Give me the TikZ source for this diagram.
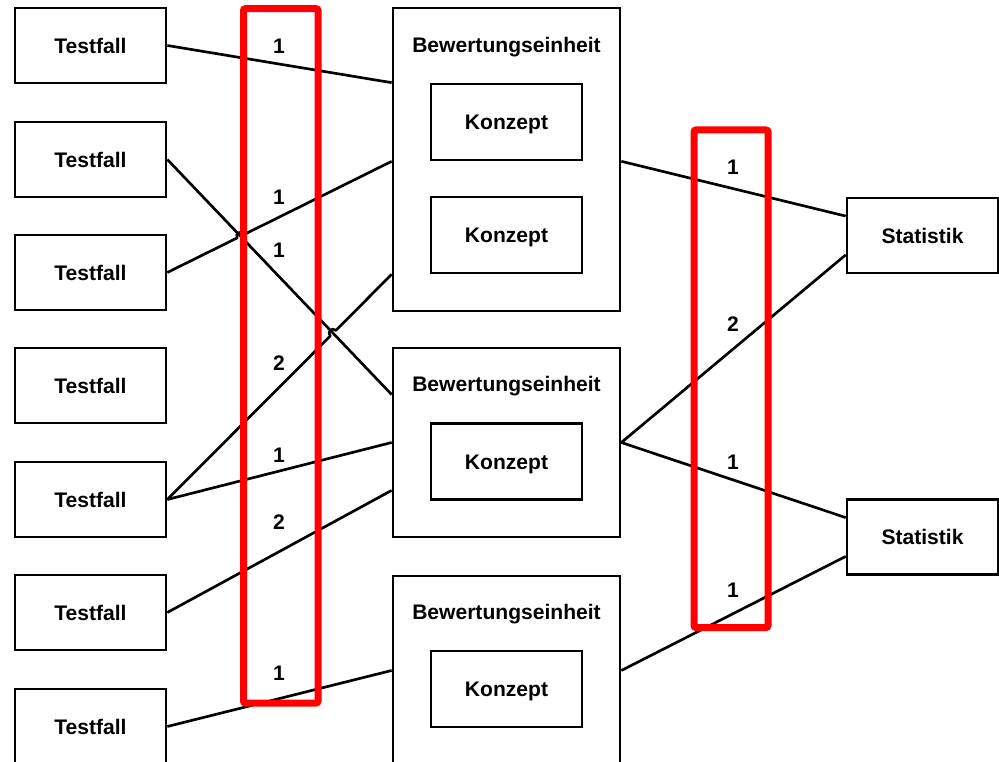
\documentclass[tikz,border=0pt]{standalone}
\usepackage{fontspec}
\setmainfont{Liberation Sans}
\usetikzlibrary{calc}
\begin{document}
\begin{tikzpicture}[x=0.75pt,y=-0.75pt,
  txt/.style={font=\bfseries\fontsize{15.8}{18}\selectfont,
    text height=11.3pt, text depth=0pt},
  box/.style={txt, draw, line width=2pt, fill=white, minimum width=113.25pt,
    minimum height=56.25pt, inner sep=0pt},
  unit/.style={draw, line width=2pt, minimum width=170.25pt,
    minimum height=141.75pt, inner sep=0pt},
  title/.style={txt, inner sep=0pt},
  count/.style={txt, inner sep=0pt},
  wire/.style={line width=2pt, line join=round},
  group/.style={draw=red, line width=5.25pt, rounded corners=1.5pt}]
\useasboundingbox (0,0) rectangle (999,762);

% test cases
\node[box] (tf1) at (90.5,45.5)  {Testfall};
\node[box] (tf2) at (90.5,159.5) {Testfall};
\node[box] (tf3) at (90.5,272.5) {Testfall};
\node[box] (tf4) at (90.5,385.5) {Testfall};
\node[box] (tf5) at (90.5,499.5) {Testfall};
\node[box] (tf6) at (90.5,612.5) {Testfall};
\node[box] (tf7) at (90.5,726.5) {Testfall};

% evaluation units with their concepts
\node[unit, minimum height=227.25pt] (bew1) at (506.5,159.5) {};
\node[unit] (bew2) at (506.5,442.5) {};
\node[unit] (bew3) at (506.5,670.5) {};
\node[title] (bt1) at (506.5,44.5)  {Bewertungseinheit};
\node[title] (bt2) at (506.5,384) {Bewertungseinheit};
\node[title] (bt3) at (506.5,611.5) {Bewertungseinheit};
\node[box, minimum height=57pt] (k1) at (506.5,122)   {Konzept};
\node[box, minimum height=57pt] (k2) at (506.5,235)   {Konzept};
\node[box, minimum height=57pt] (k3) at (506.5,461.5) {Konzept};
\node[box, minimum height=57pt] (k4) at (506.5,689)   {Konzept};

% statistics
\node[box] (st1) at (922.5,235.5) {Statistik};
\node[box] (st2) at (922.5,537)   {Statistik};

% connection points on the unit borders
\coordinate (b1a) at (bew1.west |- k1.north);
\coordinate (b1b) at (bew1.west |- k1.south);
\coordinate (b1c) at (bew1.west |- k2.south);
\coordinate (b2a) at ($(bew2.north west)!0.25!(bew2.south west)$);
\coordinate (b2c) at ($(bew2.north west)!0.75!(bew2.south west)$);
\coordinate (b1r) at (bew1.east |- k1.south);
\coordinate (s1a) at ($(st1.north west)!0.25!(st1.south west)$);
\coordinate (s1b) at ($(st1.north west)!0.75!(st1.south west)$);
\coordinate (s2a) at ($(st2.north west)!0.25!(st2.south west)$);
\coordinate (s2b) at ($(st2.north west)!0.75!(st2.south west)$);
\coordinate (t2) at (tf2.east);
\coordinate (t3) at (tf3.east);
\coordinate (t5) at (tf5.east);

% crossings that get a line jump
\coordinate (x1) at (intersection of t2--b2a and t3--b1b);
\coordinate (x2) at (intersection of t2--b2a and t5--b1c);

% test cases to evaluation units
\draw[wire] (tf1.east) -- (b1a);
\draw[wire] (tf2.east) -- (b2a);
\draw[wire] (tf3.east) -- ($(x1)!3pt!(t3)$)
  to[bend left=90, looseness=1.7] ($(x1)!3pt!(b1b)$) -- (b1b);
\draw[wire] (tf5.east) -- ($(x2)!3pt!(t5)$)
  to[bend left=90, looseness=1.7] ($(x2)!3pt!(b1c)$) -- (b1c);
\draw[wire] (tf5.east) -- (bew2.west);
\draw[wire] (tf6.east) -- (b2c);
\draw[wire] (tf7.east) -- (bew3.west);

% evaluation units to statistics
\draw[wire] (b1r) -- (s1a);
\draw[wire] (bew2.east) -- (s1b);
\draw[wire] (bew2.east) -- (s2a);
\draw[wire] (bew3.east) -- (s2b);

% grouping frames
\draw[group] (243.5,8.7) rectangle (318,703);
\draw[group] (694,130) rectangle (768,627.5);

% multiplicities
\node[count] (m1) at (279,46)  {1};
\node[count] (m2) at (279,197) {1};
\node[count] (m3) at (279,250) {1};
\node[count] (m4) at (279,363) {2};
\node[count] (m5) at (279,455) {1};
\node[count] (m6) at (279,522) {2};
\node[count] (m7) at (279,673) {1};
\node[count] (n1) at (733,167) {1};
\node[count] (n2) at (733,324) {2};
\node[count] (n3) at (733,462) {1};
\node[count] (n4) at (733,590) {1};
\end{tikzpicture}
\end{document}
